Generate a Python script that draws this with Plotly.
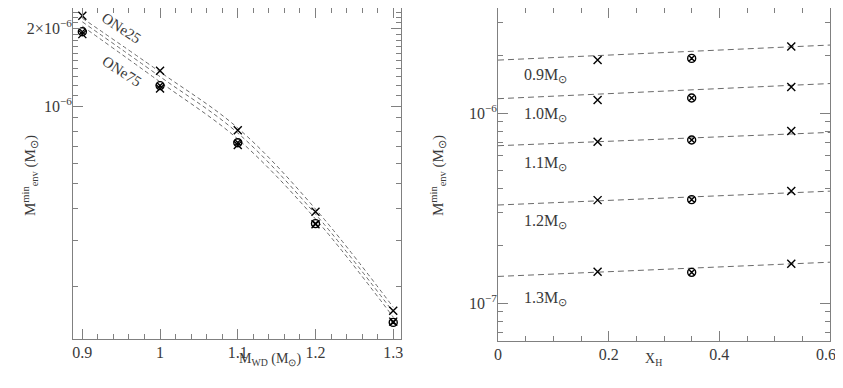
import math
import plotly.graph_objects as go

# left panel: minimum envelope mass vs white dwarf mass
mwd = [0.9, 1.0, 1.1, 1.2, 1.3]
menv_xh018 = [1.90e-6, 1.17e-6, 7.06e-7, 3.48e-7, 1.46e-7]
menv_xh035 = [1.94e-6, 1.20e-6, 7.21e-7, 3.50e-7, 1.45e-7]
menv_xh053 = [2.24e-6, 1.37e-6, 8.05e-7, 3.89e-7, 1.61e-7]

# dashed curves for the core compositions
one25 = [2.19e-6, 1.355e-6, 8.22e-7, 3.99e-7, 1.66e-7]
one50 = [2.12e-6, 1.30e-6, 7.86e-7, 3.81e-7, 1.59e-7]
one75 = [2.04e-6, 1.24e-6, 7.45e-7, 3.65e-7, 1.52e-7]

# right panel: minimum envelope mass vs hydrogen fraction
xh = [0.18, 0.35, 0.53]
xh_fit = [0.0, 0.6]
mass_labels = ["0.9", "1.0", "1.1", "1.2", "1.3"]
fit_lines = [
    [1.90e-6, 2.28e-6],
    [1.19e-6, 1.43e-6],
    [6.73e-7, 7.91e-7],
    [3.28e-7, 3.88e-7],
    [1.38e-7, 1.64e-7],
]
label_y = [1.585e-6, 0.988e-6, 5.45e-7, 2.67e-7, 1.06e-7]

FONT = "Liberation Serif, Times New Roman, serif"
INK = "#3a3a3a"
AX = "#808080"
# the page body keeps its default 8px margin, so the figure is 16px smaller than the window
W, H = 827, 372

fig = go.Figure()

for curve in (one25, one50, one75):
    fig.add_trace(go.Scatter(x=mwd, y=curve, mode="lines", line_shape="spline",
                             line=dict(color="#6a6a6a", width=1, dash="4px,3px"),
                             xaxis="x", yaxis="y", showlegend=False))

cross = dict(symbol="x-thin", size=8, color="black", line=dict(width=1.4, color="black"))
otimes = dict(symbol="circle-x-open", size=8, color="black", line=dict(width=1.4, color="black"))

fig.add_trace(go.Scatter(x=mwd, y=menv_xh018, mode="markers", marker=cross,
                         xaxis="x", yaxis="y", showlegend=False))
fig.add_trace(go.Scatter(x=mwd, y=menv_xh053, mode="markers", marker=cross,
                         xaxis="x", yaxis="y", showlegend=False))
fig.add_trace(go.Scatter(x=mwd, y=menv_xh035, mode="markers", marker=otimes,
                         xaxis="x", yaxis="y", showlegend=False))

# right panel
for i, line in enumerate(fit_lines):
    fig.add_trace(go.Scatter(x=xh_fit, y=line, mode="lines",
                             line=dict(color="#6a6a6a", width=1, dash="6px,4px"),
                             xaxis="x2", yaxis="y2", showlegend=False))
    pts = [menv_xh018[i], menv_xh035[i], menv_xh053[i]]
    fig.add_trace(go.Scatter(x=[xh[0], xh[2]], y=[pts[0], pts[2]], mode="markers",
                             marker=cross, xaxis="x2", yaxis="y2", showlegend=False))
    fig.add_trace(go.Scatter(x=[xh[1]], y=[pts[1]], mode="markers",
                             marker=otimes, xaxis="x2", yaxis="y2", showlegend=False))

annotations = []
for lab, yv in zip(mass_labels, label_y):
    annotations.append(dict(x=0.043, y=math.log10(yv), xref="x2", yref="y2",
                            text=lab + "M<sub>⊙</sub>", showarrow=False,
                            xanchor="left", yanchor="middle",
                            font=dict(family=FONT, size=16, color=INK)))

annotations.append(dict(x=0.950, y=-5.696, xref="x", yref="y", text="ONe25",
                        showarrow=False, textangle=33,
                        font=dict(family=FONT, size=15, color=INK)))
annotations.append(dict(x=0.950, y=-5.866, xref="x", yref="y", text="ONe75",
                        showarrow=False, textangle=33,
                        font=dict(family=FONT, size=15, color=INK)))

ytitle = "M<sup>min</sup><sub>env</sub> (M<sub>⊙</sub>)"
for xp in (10 / W, 430 / W):
    annotations.append(dict(x=xp, y=1 - 168 / H, xref="paper", yref="paper", text=ytitle,
                            showarrow=False, textangle=-90,
                            font=dict(family=FONT, size=15, color=INK)))

annotations.append(dict(x=229 / W, y=1 - 362 / H, xref="paper", yref="paper",
                        text="M<sub>WD</sub> (M<sub>⊙</sub>)", showarrow=False,
                        font=dict(family=FONT, size=14, color=INK)))
annotations.append(dict(x=656 / W, y=1 - 362 / H, xref="paper", yref="paper",
                        text="X<sub>H</sub>", showarrow=False,
                        font=dict(family=FONT, size=14, color=INK)))

axis_common = dict(showline=True, linecolor=AX, linewidth=1, mirror="allticks",
                   ticks="inside", ticklen=10, tickcolor=AX, tickwidth=1,
                   showgrid=False, zeroline=False, automargin=False,
                   ticklabeloverflow="allow",
                   tickfont=dict(family=FONT, size=16, color=INK))

minor_left_y = [k * 1e-7 for k in range(2, 10)] + [k * 1e-7 for k in range(11, 26) if k != 20]
minor_right_y = [k * 1e-8 for k in range(6, 10)] + [k * 1e-7 for k in range(2, 10)] + [2e-6, 3e-6]

fig.update_layout(
    width=W, height=H,
    margin=dict(l=0, r=0, t=0, b=0),
    paper_bgcolor="white", plot_bgcolor="white",
    xaxis=dict(domain=[65 / W, 393 / W], range=[0.888, 1.310],
               tickvals=[0.9, 1.0, 1.1, 1.2, 1.3], ticktext=["0.9", "1", "1.1", "1.2", "1.3"],
               minor=dict(dtick=0.02, tick0=0.9, ticklen=5, tickcolor=AX, ticks="inside"),
               ticklabelstandoff=-1, anchor="y", **axis_common),
    yaxis=dict(domain=[1 - 331 / H, 1], type="log", range=[-6.903, -5.620],
               tickvals=[1e-6, 2e-6], ticktext=["10<sup>−6</sup>", "2×10<sup>−6</sup>"],
               minor=dict(tickvals=minor_left_y, ticklen=5, tickcolor=AX, ticks="inside"),
               ticklabelstandoff=-3, anchor="x", **axis_common),
    xaxis2=dict(domain=[490 / W, 822 / W], range=[0, 0.6],
                tickvals=[0, 0.2, 0.4, 0.6], ticktext=["0", "0.2", "0.4", "0.6\u00a0\u00a0"],
                minor=dict(dtick=0.05, tick0=0, ticklen=5, tickcolor=AX, ticks="inside"),
                ticklabelstandoff=-1, anchor="y2", **axis_common),
    yaxis2=dict(domain=[1 - 333 / H, 1], type="log", range=[-7.2, -5.447],
                tickvals=[1e-7, 1e-6], ticktext=["10<sup>−7</sup>", "10<sup>−6</sup>"],
                minor=dict(tickvals=minor_right_y, ticklen=5, tickcolor=AX, ticks="inside"),
                ticklabelstandoff=-3, anchor="x2", **axis_common),
    annotations=annotations,
)

fig.write_html("out.html")
